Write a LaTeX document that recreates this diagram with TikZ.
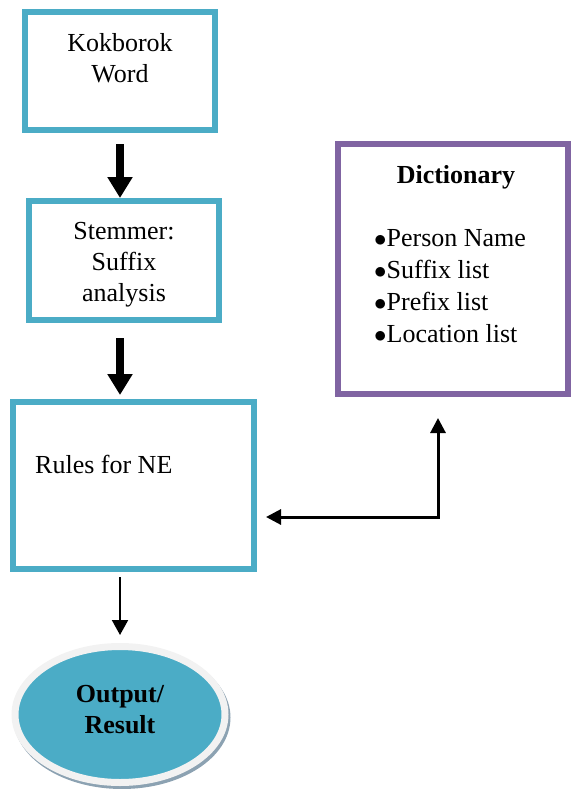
\documentclass[tikz,border=0pt]{standalone}
\usepackage{fontspec}
\setmainfont{Liberation Serif}
\usetikzlibrary{arrows.meta,positioning,shapes.geometric,shadows}
\definecolor{boxblue}{RGB}{75,172,198}
\definecolor{dictpurple}{RGB}{128,100,162}
\definecolor{ringgray}{RGB}{242,242,242}
\definecolor{shadowgray}{RGB}{140,162,178}

\begin{document}
\begin{tikzpicture}[x=1pt,y=-1pt,
        box/.style={rectangle,draw=boxblue,line width=6pt,inner sep=0pt,outer sep=0pt},
        txt/.style={inner sep=0pt,align=center,font=\fontsize{26}{31}\selectfont},
        boldtxt/.style={inner sep=0pt,align=center,font=\fontsize{26}{31}\selectfont\bfseries},
        bigarrow/.style={line width=8pt,-{Triangle[length=21pt,width=24pt]}},
        thinarrow/.style={line width=2pt,-{Triangle[length=15pt,width=16pt]}},
        linkarrow/.style={line width=3pt,{Triangle[length=15pt,width=15pt]}-{Triangle[length=15pt,width=15pt]}}]
        \useasboundingbox (0,0) rectangle (572,789);
        % left column
        \node[box,minimum width=190pt,minimum height=118pt] (word) at (120,71) {};
        \node[txt,below=21pt of word.north] (wordtxt) {Kokborok\\Word};
        \node[box,minimum width=190pt,minimum height=119pt] (stem) at (124,260.5) {};
        \node[txt,below=21.5pt of stem.north] (stemtxt) {Stemmer:\\Suffix\\analysis};
        \node[box,minimum width=241pt,minimum height=167pt] (rules) at (133.5,485.5) {};
        \node[txt,anchor=north west,below right=53pt and 22pt of rules.north west] (rulestxt) {Rules for NE};
        \node[ellipse,draw=ringgray,line width=7pt,fill=boxblue,minimum width=210pt,minimum height=136pt,
            outer sep=0pt,
            drop shadow={shadow xshift=2pt,shadow yshift=-3pt,fill=shadowgray,draw=shadowgray,line width=7pt,opacity=1}]
            (out) at (120,714.5) {};
        \node[boldtxt] (outtxt) at ([yshift=5pt]out.center) {Output/\\Result};
        % dictionary
        \node[box,draw=dictpurple,minimum width=230pt,minimum height=250pt] (dict) at (453,269) {};
        \node[boldtxt,below=21.5pt of dict.north,xshift=3pt] (dicttxt) {Dictionary};
        \node[inner sep=0pt,align=left,font=\fontsize{26}{32}\selectfont,anchor=north west,
            below right=85pt and 36pt of dict.north west] (dictlist)
            {$\bullet$Person Name\\$\bullet$Suffix list\\$\bullet$Prefix list\\$\bullet$Location list};
        \coordinate (bend) at (438,517);
        % arrows
        \draw[bigarrow,shorten <=14pt,shorten >=3pt] (word.south) -- (word.south |- stem.north);
        \draw[bigarrow,shorten <=18pt,shorten >=7pt] (word.south |- stem.south) -- (word.south |- rules.north);
        \draw[thinarrow,shorten <=8pt,shorten >=11.5pt] (out.north |- rules.south) -- (out.north);
        \draw[linkarrow,shorten <=12pt,shorten >=24pt] (rules.east |- bend) -- (bend) -- (bend |- dict.south);
\end{tikzpicture}
\end{document}
